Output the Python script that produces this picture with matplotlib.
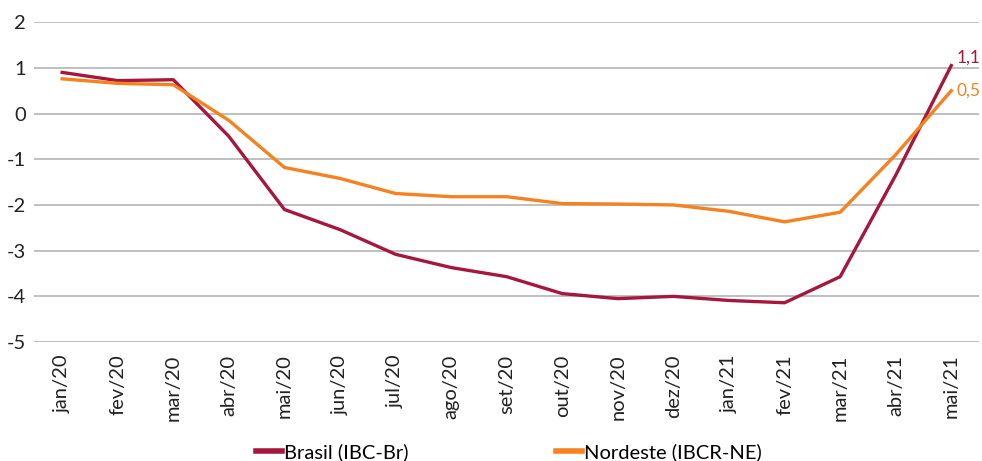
import matplotlib.pyplot as plt
import numpy as np

plt.rcParams['font.family'] = ['Lato', 'DejaVu Sans']
plt.rcParams['axes.unicode_minus'] = False

## Data
meses = ['jan/20', 'fev/20', 'mar/20', 'abr/20', 'mai/20', 'jun/20', 'jul/20', 'ago/20',
         'set/20', 'out/20', 'nov/20', 'dez/20', 'jan/21', 'fev/21', 'mar/21', 'abr/21', 'mai/21']
brasil = [0.90, 0.72, 0.74, -0.50, -2.10, -2.54, -3.08, -3.37, -3.57, -3.94, -4.05, -4.00,
          -4.09, -4.14, -3.57, -1.35, 1.05]
nordeste = [0.76, 0.66, 0.63, -0.15, -1.18, -1.42, -1.75, -1.82, -1.82, -1.97, -1.98, -2.00,
            -2.14, -2.37, -2.16, -0.90, 0.50]

cor_br = '#A6173E'
cor_ne = '#F5821F'

fig = plt.figure(figsize=(9.82, 4.61), dpi=100)
ax = fig.add_axes([0.035, 0.258, 0.962, 0.694])

x = np.arange(len(meses))
ax.plot(x, brasil, color=cor_br, lw=2.4, label='Brasil (IBC-Br)', zorder=3)
ax.plot(x, nordeste, color=cor_ne, lw=2.4, label='Nordeste (IBCR-NE)', zorder=3)

## labels at the end
ax.annotate('1,1', (x[-1], brasil[-1]), xytext=(4, 0), textcoords='offset points',
            color=cor_br, fontsize=12.5, ha='left', va='bottom')
ax.annotate('0,5', (x[-1], nordeste[-1]), xytext=(4, -6), textcoords='offset points',
            color=cor_ne, fontsize=12.5, ha='left', va='bottom')

## y axis
ax.set_ylim(-5, 2)
ax.set_yticks(range(-5, 3))
ax.yaxis.grid(True, color='#B4B4B4', lw=1.2)
ax.set_axisbelow(True)

## x axis
ax.set_xlim(-0.5, 16.5)
ax.set_xticks(x)
ax.set_xticklabels(meses, rotation=90)
ax.tick_params(length=0, labelsize=14.5, colors='#222222')
ax.tick_params(axis='x', pad=9)
ax.tick_params(axis='y', pad=6)
for s in ax.spines.values():
    s.set_visible(False)

fig.legend(loc='lower center', bbox_to_anchor=(0.518, -0.04), ncol=2, frameon=False,
           fontsize=14.5, handlelength=1.3, handletextpad=0.1, columnspacing=7.3)
for h in fig.legends[0].get_lines():
    h.set_linewidth(4)

fig.savefig('out.png', dpi=100)
